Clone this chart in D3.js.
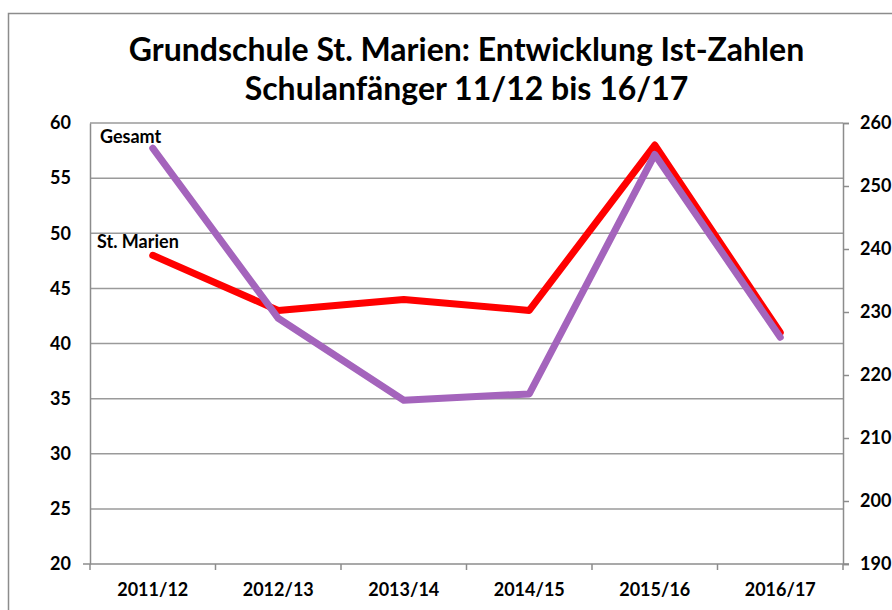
<!DOCTYPE html>
<html>
<head>
<meta charset="utf-8">
<script src="https://cdn.jsdelivr.net/npm/d3@7"></script>
<style>
  body { margin: 0; background: #fff; }
  svg text { font-family: Lato, "Open Sans", sans-serif; font-weight: bold; fill: #000; }
</style>
</head>
<body>
<svg id="chart" width="892" height="610"></svg>
<script>
// values
const years = ['2011/12', '2012/13', '2013/14', '2014/15', '2015/16', '2016/17'];
const stMarien = [48, 43, 44, 43, 58, 41];     // left axis
const gesamt = [256, 229, 216, 217, 255, 226];  // right axis
const leftTicks = [20, 25, 30, 35, 40, 45, 50, 55, 60];
const rightTicks = [190, 200, 210, 220, 230, 240, 250, 260];
const titleLines = ['Grundschule St. Marien: Entwicklung Ist-Zahlen', 'Schulanfänger 11/12 bis 16/17'];

const svg = d3.select('#chart');
const plotLeft = 90, plotRight = 843, plotTop = 123, plotBottom = 564;

// outer frame
svg.append('rect')
    .attr('x', 8.5).attr('y', 13.5)
    .attr('width', 900).attr('height', 620)
    .attr('fill', 'none').attr('stroke', '#8c8c8c').attr('stroke-width', 1.5);

const x = d3.scaleBand().domain(years).range([plotLeft, plotRight]);
const xc = d => x(d) + x.bandwidth() / 2;
const yL = d3.scaleLinear().domain([20, 60]).range([plotBottom, plotTop]);
const yR = d3.scaleLinear().domain([190, 260]).range([plotBottom, plotTop]);

// title
svg.selectAll('.title').data(titleLines).enter().append('text')
    .attr('class', 'title')
    .attr('x', (plotLeft + plotRight) / 2)
    .attr('y', (d, i) => 61 + i * 39)
    .attr('text-anchor', 'middle')
    .style('font-size', '32px')
    .text(d => d);

// gridlines
svg.append('g').selectAll('line').data(leftTicks.slice(1)).enter().append('line')
    .attr('x1', plotLeft).attr('x2', plotRight)
    .attr('y1', d => yL(d)).attr('y2', d => yL(d))
    .attr('stroke', '#9a9a9a').attr('stroke-width', 1.5);

// left axis
const gl = svg.append('g').attr('transform', `translate(${plotLeft},0)`)
    .call(d3.axisLeft(yL).tickValues(leftTicks).tickSize(0).tickPadding(19));
gl.select('.domain').attr('stroke', '#8c8c8c').attr('stroke-width', 1.5);
gl.selectAll('text').style('font-size', '18px').style('font-family', 'Lato, sans-serif');

// right axis
const gr = svg.append('g').attr('transform', `translate(${plotRight},0)`)
    .call(d3.axisRight(yR).tickValues(rightTicks).tickSize(6).tickPadding(11));
gr.select('.domain').attr('stroke', '#8c8c8c').attr('stroke-width', 1.5);
gr.selectAll('line').attr('stroke', '#8c8c8c').attr('stroke-width', 1.5);
gr.selectAll('text').style('font-size', '18px').style('font-family', 'Lato, sans-serif');

// bottom axis
const gb = svg.append('g').attr('transform', `translate(0,${plotBottom})`)
    .call(d3.axisBottom(x).tickSize(0).tickPadding(19));
gb.select('.domain').remove();
gb.selectAll('text').style('font-size', '18px').style('font-family', 'Lato, sans-serif');
gb.append('line').attr('x1', plotLeft - 7).attr('x2', plotRight + 6)
    .attr('stroke', '#8c8c8c').attr('stroke-width', 1.5);
gb.selectAll('.sep').data(years.concat(['end'])).enter().append('line')
    .attr('class', 'sep')
    .attr('x1', (d, i) => plotLeft + i * x.step()).attr('x2', (d, i) => plotLeft + i * x.step())
    .attr('y1', 0).attr('y2', 6)
    .attr('stroke', '#8c8c8c').attr('stroke-width', 1.5);

// lines
const lineL = d3.line().x((d, i) => xc(years[i])).y(d => yL(d));
const lineR = d3.line().x((d, i) => xc(years[i])).y(d => yR(d));

svg.append('path').datum(stMarien)
    .attr('d', lineL)
    .attr('fill', 'none').attr('stroke', '#ff0000').attr('stroke-width', 7)
    .attr('stroke-linejoin', 'round').attr('stroke-linecap', 'round');

svg.append('path').datum(gesamt)
    .attr('d', lineR)
    .attr('fill', 'none').attr('stroke', '#a464bc').attr('stroke-width', 7)
    .attr('stroke-linejoin', 'round').attr('stroke-linecap', 'round');

// series labels
svg.append('text').attr('x', 100).attr('y', 143).style('font-size', '18px').text('Gesamt');
svg.append('text').attr('x', 97).attr('y', 248).style('font-size', '18px').text('St. Marien');
</script>
</body>
</html>
